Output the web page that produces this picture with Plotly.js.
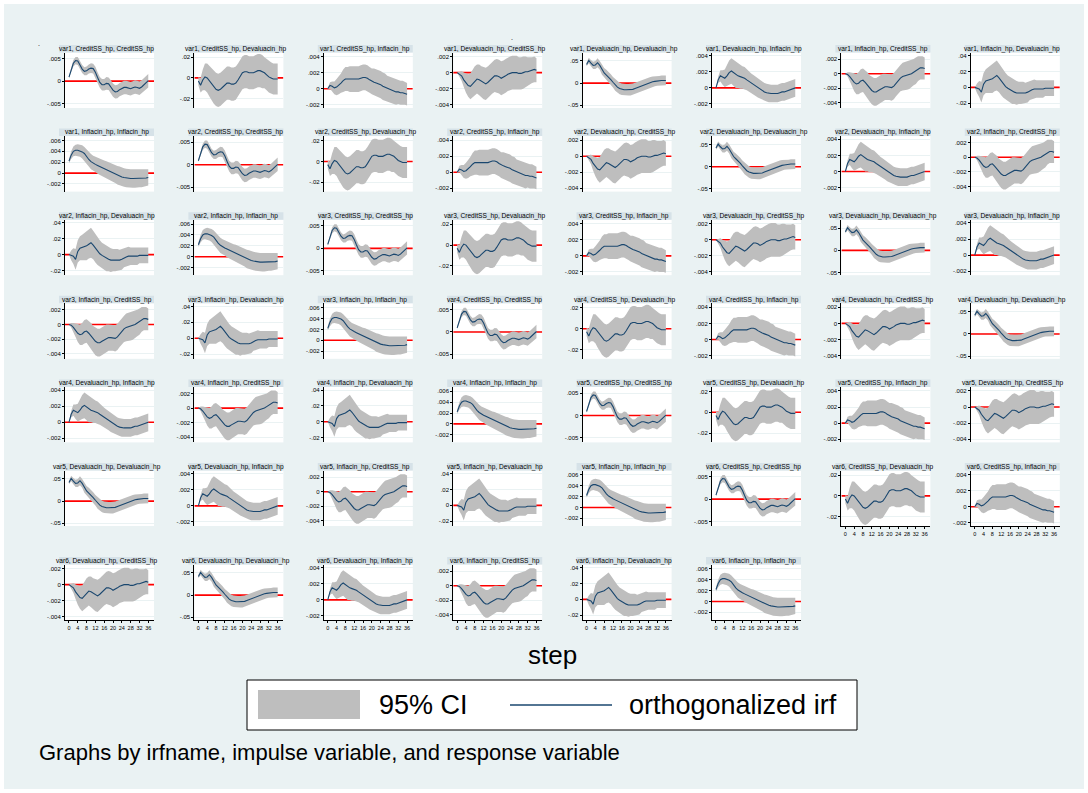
<!DOCTYPE html>
<html><head><meta charset="utf-8">
<script src="https://cdn.plot.ly/plotly-3.0.1.min.js"></script>
<style>html,body{margin:0;padding:0;background:#fff}#chart{width:1088px;height:793px}</style>
</head><body><div id="chart"></div>
<script>
// ---------------- DATA ----------------
const steps = [0,1,2,3,4,5,6,7,8,9,10,11,12,13,14,15,16,17,18,19,20,21,22,23,24,25,26,27,28,29,30,31,32,33,34,35,36];
const xTicks = [0,4,8,12,16,20,24,28,32,36];
const irfNames = ["var1","var2","var3","var4","var5","var6"];
const varNames = ["CreditSS_hp","Devaluacin_hp","Inflacin_hp"];

// impulse CreditSS -> response CreditSS
const irf_CC = [0.0009,0.0025,0.0040,0.0046,0.0045,0.0036,0.0027,0.0022,0.0023,0.0027,0.0029,0.0028,0.0020,0.0008,-0.0003,-0.0008,-0.0008,-0.0005,-0.0006,-0.0013,-0.0020,-0.0024,-0.0023,-0.0019,-0.0016,-0.0014,-0.0014,-0.0016,-0.0017,-0.0015,-0.0013,-0.0014,-0.0016,-0.0013,-0.0008,-0.0003,0.0001];
const hw_CC = [0.0003,0.0005,0.0007,0.0008,0.0009,0.0009,0.0009,0.0009,0.0010,0.0010,0.0011,0.0011,0.0012,0.0012,0.0012,0.0013,0.0013,0.0014,0.0014,0.0015,0.0015,0.0015,0.0015,0.0015,0.0015,0.0015,0.0015,0.0015,0.0015,0.0015,0.0015,0.0015,0.0015,0.0015,0.0015,0.0015,0.0015];
// CreditSS -> Devaluacin
const irf_CD = [-0.003,-0.007,-0.002,0.001,0.000,-0.003,-0.006,-0.009,-0.011,-0.012,-0.011,-0.009,-0.007,-0.005,-0.005,-0.006,-0.006,-0.005,-0.002,0.002,0.005,0.006,0.006,0.005,0.005,0.005,0.006,0.007,0.007,0.006,0.005,0.003,0.001,0.000,-0.001,-0.001,-0.001];
const hw_CD = [0.004,0.007,0.010,0.013,0.014,0.015,0.016,0.016,0.016,0.016,0.016,0.016,0.016,0.016,0.016,0.016,0.016,0.016,0.016,0.016,0.016,0.016,0.016,0.016,0.016,0.016,0.016,0.016,0.016,0.016,0.015,0.015,0.015,0.015,0.015,0.015,0.015];
// CreditSS -> Inflacin
const irf_CI = [0.0000,0.0004,0.0003,0.0001,0.0002,0.0004,0.0007,0.0010,0.0012,0.0012,0.0012,0.0012,0.0012,0.0012,0.0012,0.0013,0.0014,0.0014,0.0013,0.0011,0.0009,0.0008,0.0007,0.0006,0.0005,0.0003,0.0002,0.0000,-0.0001,-0.0002,-0.0003,-0.0004,-0.0004,-0.0005,-0.0005,-0.0006,-0.0007];
const hw_CI = [0.0001,0.0004,0.0006,0.0008,0.0010,0.0011,0.0012,0.0014,0.0015,0.0015,0.0016,0.0016,0.0016,0.0016,0.0016,0.0016,0.0016,0.0016,0.0016,0.0016,0.0016,0.0017,0.0017,0.0017,0.0017,0.0017,0.0017,0.0016,0.0016,0.0016,0.0016,0.0016,0.0015,0.0015,0.0015,0.0014,0.0014];
// Devaluacin -> CreditSS
const irf_DC = [0.0000,-0.0002,-0.0004,-0.0009,-0.0013,-0.0016,-0.0017,-0.0014,-0.0010,-0.0008,-0.0009,-0.0011,-0.0013,-0.0014,-0.0012,-0.0009,-0.0006,-0.0004,-0.0004,-0.0005,-0.0007,-0.0006,-0.0004,-0.0002,-0.0001,0.0000,0.0000,0.0000,-0.0001,-0.0001,0.0000,0.0001,0.0001,0.0002,0.0003,0.0004,0.0003];
const hw_DC = [0.0000,0.0003,0.0006,0.0009,0.0012,0.0014,0.0016,0.0017,0.0018,0.0018,0.0019,0.0019,0.0020,0.0020,0.0020,0.0020,0.0020,0.0020,0.0021,0.0021,0.0021,0.0021,0.0021,0.0021,0.0021,0.0021,0.0021,0.0021,0.0020,0.0020,0.0020,0.0019,0.0018,0.0017,0.0016,0.0016,0.0015];
// Devaluacin -> Devaluacin
const irf_DD = [0.042,0.051,0.045,0.040,0.041,0.046,0.040,0.030,0.023,0.018,0.014,0.008,0.002,-0.004,-0.009,-0.012,-0.014,-0.015,-0.015,-0.015,-0.015,-0.014,-0.012,-0.010,-0.008,-0.006,-0.004,-0.002,0.000,0.002,0.003,0.004,0.005,0.005,0.006,0.006,0.006];
const hw_DD = [0.004,0.006,0.007,0.008,0.009,0.010,0.010,0.011,0.011,0.012,0.012,0.012,0.012,0.013,0.013,0.013,0.013,0.013,0.013,0.013,0.013,0.013,0.013,0.013,0.013,0.012,0.012,0.012,0.012,0.012,0.012,0.011,0.011,0.011,0.011,0.011,0.011];
// Devaluacin -> Inflacin
const irf_DI = [0.0000,0.0010,0.0015,0.0013,0.0012,0.0015,0.0019,0.0021,0.0019,0.0016,0.0015,0.0014,0.0013,0.0012,0.0010,0.0008,0.0006,0.0004,0.0002,0.0000,-0.0002,-0.0004,-0.0005,-0.0006,-0.0007,-0.0007,-0.0007,-0.0007,-0.0007,-0.0006,-0.0005,-0.0005,-0.0004,-0.0003,-0.0002,-0.0001,0.0000];
const hw_DI = [0.0000,0.0004,0.0007,0.0009,0.0011,0.0013,0.0015,0.0016,0.0016,0.0016,0.0015,0.0015,0.0014,0.0014,0.0013,0.0013,0.0012,0.0012,0.0012,0.0012,0.0011,0.0011,0.0011,0.0011,0.0011,0.0011,0.0011,0.0011,0.0011,0.0011,0.0011,0.0011,0.0011,0.0011,0.0011,0.0011,0.0011];
// Inflacin -> CreditSS
const irf_IC = [0.0000,-0.0001,-0.0004,-0.0008,-0.0012,-0.0014,-0.0013,-0.0010,-0.0009,-0.0012,-0.0016,-0.0020,-0.0023,-0.0025,-0.0025,-0.0023,-0.0021,-0.0019,-0.0018,-0.0018,-0.0018,-0.0019,-0.0017,-0.0013,-0.0009,-0.0006,-0.0004,-0.0003,-0.0003,-0.0002,0.0000,0.0002,0.0004,0.0007,0.0008,0.0008,0.0007];
const hw_IC = [0.0000,0.0003,0.0006,0.0009,0.0012,0.0014,0.0015,0.0016,0.0016,0.0017,0.0018,0.0018,0.0019,0.0019,0.0019,0.0019,0.0019,0.0019,0.0018,0.0018,0.0018,0.0018,0.0018,0.0018,0.0018,0.0018,0.0019,0.0019,0.0019,0.0019,0.0019,0.0018,0.0018,0.0017,0.0016,0.0016,0.0015];
// Inflacin -> Devaluacin
const irf_ID = [0.000,-0.001,-0.002,-0.006,0.004,0.008,0.009,0.010,0.011,0.013,0.015,0.012,0.008,0.004,0.001,-0.001,-0.003,-0.005,-0.006,-0.007,-0.007,-0.007,-0.007,-0.007,-0.006,-0.004,-0.003,-0.002,-0.002,-0.002,-0.002,-0.002,-0.001,-0.001,-0.001,-0.001,-0.001];
const hw_ID = [0.000,0.006,0.010,0.013,0.014,0.015,0.016,0.017,0.018,0.018,0.019,0.018,0.018,0.017,0.017,0.016,0.016,0.016,0.015,0.015,0.014,0.014,0.014,0.013,0.013,0.012,0.012,0.012,0.011,0.011,0.011,0.011,0.010,0.010,0.010,0.010,0.010];
// Inflacin -> Inflacin
const irf_II = [0.0022,0.0033,0.0040,0.0042,0.0042,0.0041,0.0039,0.0036,0.0030,0.0025,0.0021,0.0018,0.0016,0.0014,0.0012,0.0010,0.0008,0.0006,0.0004,0.0002,0.0000,-0.0002,-0.0004,-0.0005,-0.0007,-0.0008,-0.0009,-0.0010,-0.0010,-0.0010,-0.0010,-0.0010,-0.0010,-0.0010,-0.0010,-0.0009,-0.0008];
const hw_II = [0.0004,0.0007,0.0009,0.0010,0.0011,0.0011,0.0012,0.0012,0.0013,0.0013,0.0014,0.0014,0.0014,0.0015,0.0015,0.0015,0.0015,0.0016,0.0016,0.0016,0.0016,0.0016,0.0017,0.0017,0.0017,0.0017,0.0017,0.0017,0.0017,0.0017,0.0017,0.0017,0.0016,0.0016,0.0016,0.0015,0.0015];

// y tick values / labels per impulse-response pair
const ticks_CC = [-0.005,0,0.005];            const lab_CC = ["-.005","0",".005"];
const ticks_CD = [-0.02,0,0.02];              const lab_CD = ["-.02","0",".02"];
const ticks_CI = [-0.002,0,0.002,0.004];      const lab_CI = ["-.002","0",".002",".004"];
const ticks_DC = [-0.004,-0.002,0,0.002];     const lab_DC = ["-.004","-.002","0",".002"];
const ticks_DD = [-0.05,0,0.05];              const lab_DD = ["-.05","0",".05"];
const ticks_DI = [-0.002,0,0.002,0.004];      const lab_DI = ["-.002","0",".002",".004"];
const ticks_IC = [-0.004,-0.002,0,0.002];     const lab_IC = ["-.004","-.002","0",".002"];
const ticks_ID = [-0.02,0,0.02,0.04];         const lab_ID = ["-.02","0",".02",".04"];
const ticks_II = [-0.002,0,0.002,0.004,0.006];const lab_II = ["-.002","0",".002",".004",".006"];

// ---------------- BUILD ----------------
const pairs = [
  {irf:irf_CC,hw:hw_CC,tv:ticks_CC,tt:lab_CC,rng:[-0.0060,0.0064]},
  {irf:irf_CD,hw:hw_CD,tv:ticks_CD,tt:lab_CD,rng:[-0.0290,0.0245]},
  {irf:irf_CI,hw:hw_CI,tv:ticks_CI,tt:lab_CI,rng:[-0.0024,0.0045]},
  {irf:irf_DC,hw:hw_DC,tv:ticks_DC,tt:lab_DC,rng:[-0.0044,0.0025]},
  {irf:irf_DD,hw:hw_DD,tv:ticks_DD,tt:lab_DD,rng:[-0.056,0.069]},
  {irf:irf_DI,hw:hw_DI,tv:ticks_DI,tt:lab_DI,rng:[-0.0025,0.0044]},
  {irf:irf_IC,hw:hw_IC,tv:ticks_IC,tt:lab_IC,rng:[-0.0047,0.0029]},
  {irf:irf_ID,hw:hw_ID,tv:ticks_ID,tt:lab_ID,rng:[-0.026,0.044]},
  {irf:irf_II,hw:hw_II,tv:ticks_II,tt:lab_II,rng:[-0.0034,0.0068]}
];

const W = 1088, H = 793;
const FONT = "Liberation Sans, Arial, Helvetica, sans-serif";
const px = v => v / W, py = v => 1 - v / H;
const BG = "#EAF2F3", STRIP = "#D6E2E8", BAND = "#BEBEBE", NAVY = "#1A476F", RED = "#FF0000";
const XR = [-1.8, 38.6];

const data = [];
const layout = {
  width: W, height: H, margin: {l:0,r:0,t:0,b:0},
  paper_bgcolor: BG, plot_bgcolor: "#FFFFFF",
  showlegend: false, font: {family: FONT, color: "#000"},
  shapes: [], annotations: []
};

const nPanels = irfNames.length * 9;
for (let n = 0; n < nPanels; n++) {
  const irfI = Math.floor(n / 9), k = n % 9;
  const imp = Math.floor(k / 3), resp = k % 3;
  const p = pairs[k];
  const row = Math.floor(n / 8), col = n % 8;
  const right = 154 + 129.4 * col, left = right - 89;
  const stripTop = row < 6 ? 45 + 83.6 * row : 557;
  const top = stripTop + 7.5, bottom = stripTop + 63;
  const bottomPanel = n + 8 >= nPanels;
  const id = n === 0 ? "" : String(n + 1);
  const xa = "x" + id, ya = "y" + id;

  const upper = p.irf.map((v, i) => v + p.hw[i]);
  const lower = p.irf.map((v, i) => v - p.hw[i]);

  // zero reference line (beneath the traces)
  layout.shapes.push({type: "line", xref: xa, yref: ya, x0: XR[0], x1: XR[1], y0: 0, y1: 0,
    line: {color: RED, width: 1.6}, layer: "between"});
  data.push({type: "scatter", x: steps.concat(steps.slice().reverse()), y: upper.concat(lower.slice().reverse()),
    xaxis: xa, yaxis: ya, mode: "lines", fill: "toself", fillcolor: BAND,
    line: {width: 0, color: BAND}, hoverinfo: "skip"});
  data.push({type: "scatter", x: steps, y: p.irf, xaxis: xa, yaxis: ya, mode: "lines",
    line: {color: NAVY, width: 1.1}, hoverinfo: "skip"});

  layout["xaxis" + id] = {
    domain: [px(left), px(right)], range: XR, anchor: ya,
    showgrid: false, zeroline: false, fixedrange: true,
    showline: bottomPanel, linecolor: "#000", linewidth: 1,
    ticks: bottomPanel ? "outside" : "", ticklen: 2, tickcolor: "#000",
    tickvals: xTicks, showticklabels: bottomPanel, tickangle: 0,
    tickfont: {size: 5.5, family: FONT, color: "#000"}
  };
  layout["yaxis" + id] = {
    domain: [py(bottom), py(top)], range: p.rng, anchor: xa,
    showgrid: true, gridcolor: BG, gridwidth: 1, zeroline: false, fixedrange: true,
    showline: true, linecolor: "#000", linewidth: 1,
    ticks: "outside", ticklen: 2, tickcolor: "#000",
    tickvals: p.tv, ticktext: p.tt,
    tickfont: {size: 6, family: FONT, color: "#000"}
  };

  layout.shapes.push({type: "rect", xref: "paper", yref: "paper",
    x0: px(left - 6), x1: px(right), y0: py(top), y1: py(stripTop),
    fillcolor: STRIP, line: {width: 0}, layer: "below"});
  layout.annotations.push({xref: "paper", yref: "paper",
    x: px((left - 6 + right) / 2), y: py((stripTop + top) / 2),
    text: irfNames[irfI] + ", " + varNames[imp] + ", " + varNames[resp],
    showarrow: false, font: {size: 6.6, family: FONT, color: "#000"},
    xanchor: "center", yanchor: "middle"});
}

// thin white outer frame
[[0, 1088, 0, 4], [0, 1088, 789, 793], [0, 4, 0, 793], [1084, 1088, 0, 793]].forEach(r => {
  layout.shapes.push({type: "rect", xref: "paper", yref: "paper",
    x0: px(r[0]), x1: px(r[1]), y0: py(r[3]), y1: py(r[2]),
    fillcolor: "#FFFFFF", line: {width: 0}});
});

// small stray marks in the original
layout.annotations.push({xref: "paper", yref: "paper", x: px(36), y: py(38), text: ".",
  showarrow: false, font: {size: 7, family: FONT, color: "#000"}});
layout.annotations.push({xref: "paper", yref: "paper", x: px(512), y: py(32), text: ".",
  showarrow: false, font: {size: 7, family: FONT, color: "#000"}});

// x-axis title
layout.annotations.push({xref: "paper", yref: "paper", x: px(552), y: py(655),
  text: "step", showarrow: false, font: {size: 26, family: FONT, color: "#000"},
  xanchor: "center", yanchor: "middle"});

// legend box
layout.shapes.push({type: "rect", xref: "paper", yref: "paper",
  x0: px(247), x1: px(857), y0: py(730), y1: py(680),
  fillcolor: "#FFFFFF", line: {color: "#000", width: 1}});
layout.shapes.push({type: "rect", xref: "paper", yref: "paper",
  x0: px(258), x1: px(360), y0: py(719), y1: py(690),
  fillcolor: BAND, line: {width: 0}});
layout.shapes.push({type: "line", xref: "paper", yref: "paper",
  x0: px(510), x1: px(612), y0: py(705), y1: py(705),
  line: {color: NAVY, width: 1.5}});
layout.annotations.push({xref: "paper", yref: "paper", x: px(377), y: py(705),
  text: "95% CI", showarrow: false, font: {size: 27, family: FONT, color: "#000"},
  xanchor: "left", yanchor: "middle"});
layout.annotations.push({xref: "paper", yref: "paper", x: px(627), y: py(705),
  text: "orthogonalized irf", showarrow: false, font: {size: 27, family: FONT, color: "#000"},
  xanchor: "left", yanchor: "middle"});

// note
layout.annotations.push({xref: "paper", yref: "paper", x: px(37), y: py(752),
  text: "Graphs by irfname, impulse variable, and response variable", showarrow: false,
  font: {size: 22, family: FONT, color: "#000"}, xanchor: "left", yanchor: "middle"});

Plotly.newPlot("chart", data, layout, {staticPlot: true, displayModeBar: false});
</script>
</body></html>
